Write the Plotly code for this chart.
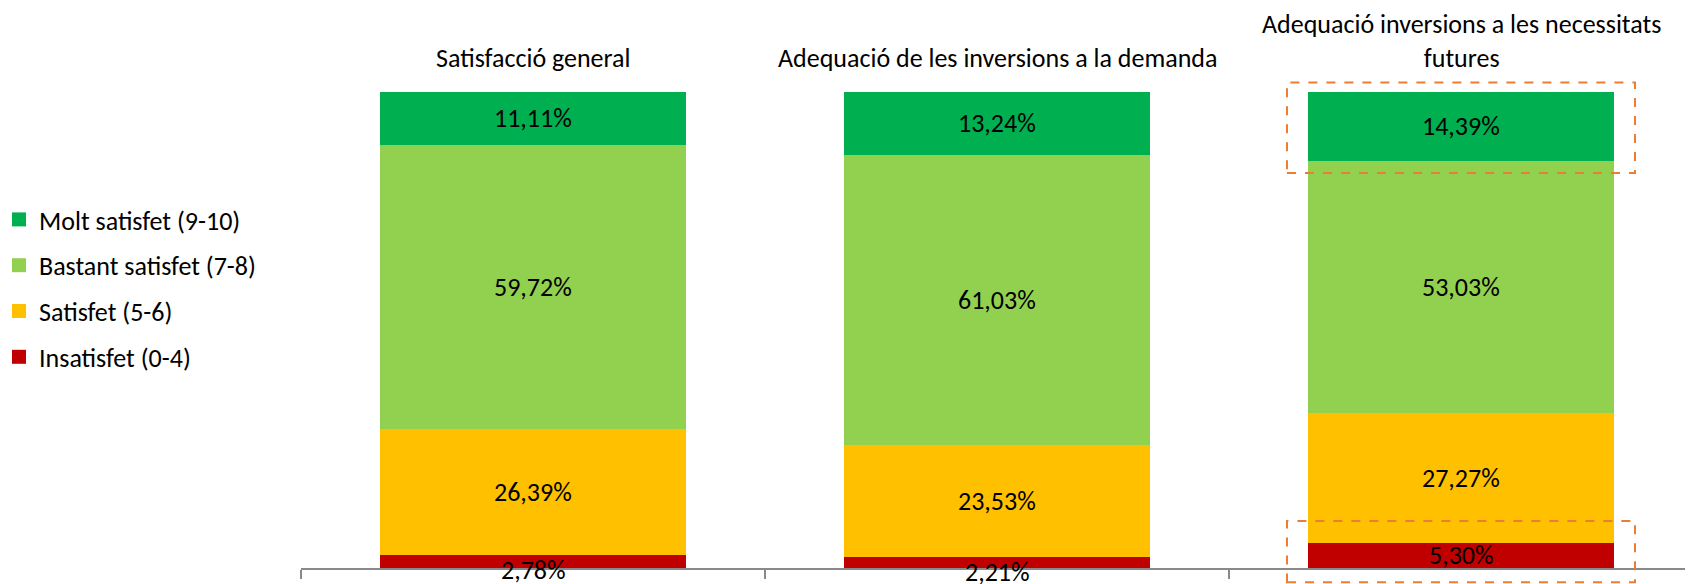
import plotly.graph_objects as go

categories = ["Satisfacció general",
              "Adequació de les inversions a la demanda",
              "Adequació inversions a les necessitats<br>futures"]
series_names = ["Insatisfet (0-4)", "Satisfet (5-6)", "Bastant satisfet (7-8)", "Molt satisfet (9-10)"]
insatisfet = [2.78, 2.21, 5.30]
satisfet = [26.39, 23.53, 27.27]
bastant = [59.72, 61.03, 53.03]
molt = [11.11, 13.24, 14.39]
series_values = [insatisfet, satisfet, bastant, molt]
colors = ["#C00000", "#FFC000", "#92D050", "#00B050"]

# highlighted segments: (category index, series index)
highlights = [(2, 3), (2, 0)]

FONT = "Carlito, Calibri, Lato, sans-serif"
FS = 26
OFF = 8  # page body margin
W, H = 1693 - OFF, 584 - OFF
ML, MR, MT, MB = 301 - OFF, 0, 92 - OFF, 16
PW = W - ML - MR
xk = list(range(len(categories)))

fig = go.Figure()
n = len(series_names)
for i, (name, vals, col) in enumerate(zip(series_names, series_values, colors)):
    fig.add_trace(go.Bar(
        x=categories, y=vals, name=name, marker=dict(color=col, line=dict(width=0)),
        legendgroup=name, showlegend=False, hoverinfo="skip"))
    # legend entry with a larger square swatch
    fig.add_trace(go.Scatter(
        x=[None], y=[None], mode="markers", name=name, legendgroup=name,
        legendrank=n - i,
        marker=dict(symbol="square", size=14, color=col, line=dict(width=0)),
        hoverinfo="skip"))

# data labels
annotations = []
for ci in xk:
    cum = 0
    for vals in series_values:
        v = vals[ci]
        mid = cum + v / 2
        cum += v
        annotations.append(dict(
            x=ci, y=mid, xref="x", yref="y",
            text=f"{v:.2f}".replace(".", ",") + "%",
            showarrow=False, font=dict(family=FONT, size=FS, color="black"),
            yshift=-9 if v < 3 else 0))

# category titles at top
plot_h = H - MT - MB
for ci, cat in enumerate(categories):
    annotations.append(dict(
        x=ci, y=1 + (92 - 76) / plot_h, xref="x", yref="paper",
        text=cat, showarrow=False, yanchor="bottom",
        font=dict(family=FONT, size=FS, color="black")))

# dashed highlight boxes
shapes = []
for ci, si in highlights:
    lo = sum(series_values[k][ci] for k in range(si))
    hi = lo + series_values[si][ci]
    if si == 0:
        y0, y1 = lo - 3.0, hi + 4.6
    else:
        y0, y1 = lo - 2.6, hi + 2.0
    shapes.append(dict(
        type="rect", xref="x", yref="paper",
        x0=ci - 0.375, x1=ci + 0.375, y0=y0 / 100, y1=y1 / 100,
        line=dict(color="#ED7D31", width=2, dash="dash"), fillcolor="rgba(0,0,0,0)"))

fig.update_layout(
    width=W, height=H,
    margin=dict(l=ML, r=MR, t=MT, b=MB, pad=0, autoexpand=False),
    barmode="stack", bargap=0.34,
    plot_bgcolor="white", paper_bgcolor="white",
    font=dict(family=FONT, size=FS, color="black"),
    showlegend=True,
    legend=dict(
        xref="paper", yref="container", x=(-9 - ML) / PW, y=1 - (196 - OFF) / H,
        xanchor="left", yanchor="top",
        traceorder="grouped", tracegroupgap=9, itemsizing="trace",
        font=dict(family=FONT, size=FS, color="black"),
        bgcolor="rgba(0,0,0,0)", itemclick=False),
    annotations=annotations, shapes=shapes,
    xaxis=dict(type="category", range=[-0.5, len(categories) - 0.5],
               showticklabels=False, tickson="boundaries",
               ticks="outside", ticklen=9, tickcolor="#898989", tickwidth=1.5,
               showline=True, linecolor="#898989", linewidth=2,
               showgrid=False, zeroline=False, fixedrange=True),
    yaxis=dict(range=[0, 100], visible=False, showgrid=False, zeroline=False, fixedrange=True),
)

fig.write_html("out.html")
